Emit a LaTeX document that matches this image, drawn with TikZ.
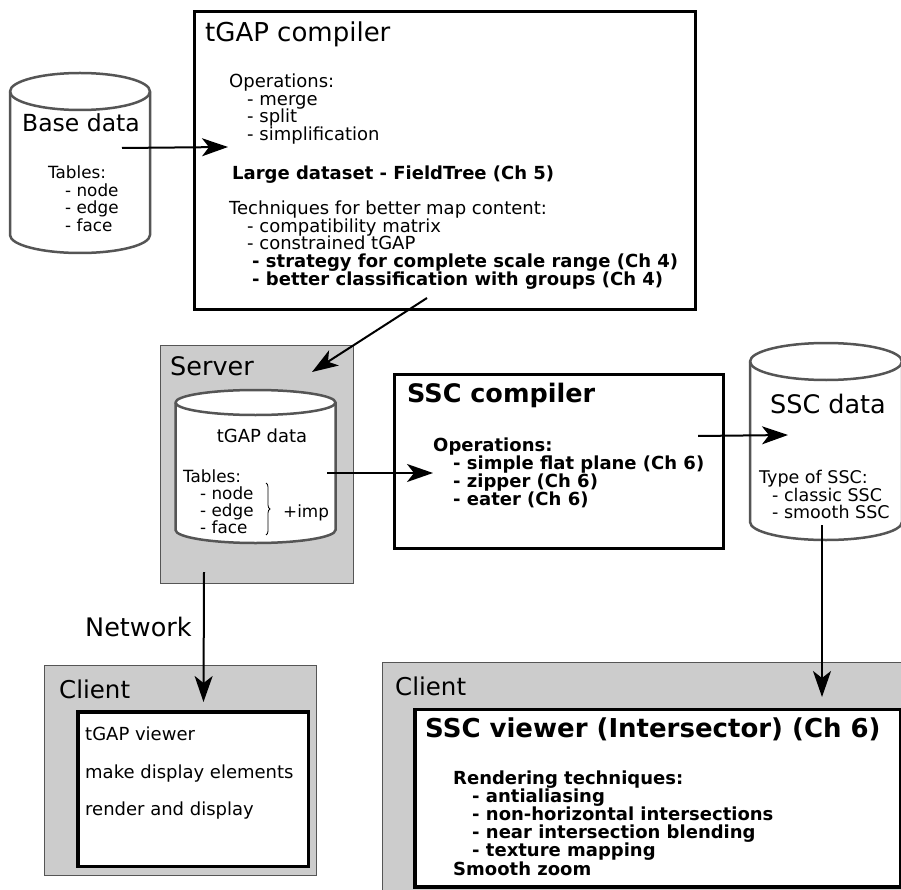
\documentclass[tikz,border=0pt]{standalone}
\usepackage{fontspec}
\setmainfont{DejaVu Sans}
\usetikzlibrary{arrows.meta,decorations.pathreplacing}
\definecolor{boxgray}{HTML}{CCCCCC}
\definecolor{edgegray}{HTML}{555555}
\newcommand\fsbody{\fontsize{18}{21}\selectfont}
\newcommand\fstab{\fontsize{16.8}{20}\selectfont}
\begin{document}
\begin{tikzpicture}[x=1pt,y=-1pt,
  lbl/.style={inner sep=0pt, anchor=base west, font=\fsbody},
  lblb/.style={inner sep=0pt, anchor=base west, font=\fsbody\bfseries},
  lbls/.style={inner sep=0pt, anchor=base west, font=\fstab},
  big/.style={inner sep=0pt, anchor=base west, font=\fontsize{24.5}{28}\selectfont},
  conn/.style={draw=black, line width=2pt, -{Stealth[length=26pt,width=18pt,inset=7pt]}},
  cyl/.style={draw=edgegray, line width=2.5pt, fill=white},
  graybox/.style={draw=edgegray, fill=boxgray, line width=1.2pt, anchor=north west, inner sep=0pt},
  mainbox/.style={draw=black, line width=3pt, fill=white, anchor=north west, inner sep=0pt},
  innerbox/.style={draw=black, line width=3.5pt, fill=white, anchor=north west, inner sep=0pt}]
\useasboundingbox (0,0) rectangle (901,890);

% ---------- boxes ----------
\node[mainbox, minimum width=501pt, minimum height=298pt] (tgap) at (192.5,10) {};
\node[graybox, minimum width=192.5pt, minimum height=238pt] (server) at (160,345) {};
\node[mainbox, minimum width=328.5pt, minimum height=174.5pt] (ssccomp) at (393,372.5) {};
\node[graybox, minimum width=272pt, minimum height=210pt] (clientL) at (44,665) {};
\node[innerbox, minimum width=230.5pt, minimum height=154.5pt] (viewerL) at (76,710) {};
\node[graybox, minimum width=523pt, minimum height=233pt] (clientR) at (382,662) {};
\node[innerbox, minimum width=486pt, minimum height=177.5pt] (viewerR) at (413,707.5) {};

% ---------- cylinders ----------
% Base data
\filldraw[cyl] (10,91.5) -- (10,235) arc[start angle=180,end angle=360,x radius=70pt,y radius=18pt]
  -- (150,91.5) arc[start angle=0,end angle=180,x radius=70pt,y radius=18.5pt] -- cycle;
\draw[cyl, fill=none] (10,91.5) arc[start angle=180,end angle=360,x radius=70pt,y radius=18.5pt];
% tGAP data
\filldraw[cyl] (175.5,402.5) -- (175.5,530) arc[start angle=180,end angle=360,x radius=80pt,y radius=13pt]
  -- (335.5,402.5) arc[start angle=0,end angle=180,x radius=80pt,y radius=12.5pt] -- cycle;
\draw[cyl, fill=none] (175.5,402.5) arc[start angle=180,end angle=360,x radius=80pt,y radius=12.5pt];
% SSC data
\filldraw[cyl] (750,361.5) -- (750,522) arc[start angle=180,end angle=360,x radius=76pt,y radius=18pt]
  -- (902,361.5) arc[start angle=0,end angle=180,x radius=76pt,y radius=18.5pt] -- cycle;
\draw[cyl, fill=none] (750,361.5) arc[start angle=180,end angle=360,x radius=76pt,y radius=18.5pt];

% ---------- Base data text ----------
\node[big, anchor=base, font=\fontsize{23.5}{28}\selectfont] (basettl) at (81,132) {Base data};
\node[lbls] (bt1) at (48,179) {Tables:};
\node[lbls] (bt2) at (65,196.5) {- node};
\node[lbls] (bt3) at (65,214) {- edge};
\node[lbls] (bt4) at (65,231.5) {- face};

% ---------- tGAP compiler text ----------
\node[big, font=\fontsize{26}{30}\selectfont] (tgapttl) at (205,42) {tGAP compiler};
\node[lbl] (tg1) at (229,88) {Operations:};
\node[lbl] (tg2) at (247,105.5) {- merge};
\node[lbl] (tg3) at (247,123) {- split};
\node[lbl] (tg4) at (247,140.5) {- simplification};
\node[lblb] (tg5) at (232,180) {Large dataset - FieldTree (Ch 5)};
\node[lbl] (tg6) at (229,215) {Techniques for better map content:};
\node[lbl] (tg7) at (247,232.5) {- compatibility matrix};
\node[lbl] (tg8) at (247,250) {- constrained tGAP};
\node[lblb] (tg9) at (252,268) {- strategy for complete scale range (Ch 4)};
\node[lblb] (tg10) at (252,286) {- better classification with groups (Ch 4)};

% ---------- Server ----------
\node[big, font=\fontsize{25.5}{30}\selectfont] (serverttl) at (170,375) {Server};
\node[lbl, anchor=base] (tdttl) at (262,442) {tGAP data};
\node[lbls] (td1) at (183,482) {Tables:};
\node[lbls] (td2) at (200,499) {- node};
\node[lbls] (td3) at (200,516) {- edge};
\node[lbls] (td4) at (200,533) {- face};
\draw[line width=0.8pt, decorate, decoration={brace, amplitude=4pt}] (266,483) -- (266,535);
\node[lbls] (imp) at (283,517) {+imp};

% ---------- SSC compiler ----------
\node[big, font=\fontsize{25.5}{30}\selectfont\bfseries] (sscttl) at (407,402) {SSC compiler};
\node[lblb] (sc1) at (433,451) {Operations:};
\node[lblb] (sc2) at (453,469) {- simple flat plane (Ch 6)};
\node[lblb] (sc3) at (453,487) {- zipper (Ch 6)};
\node[lblb] (sc4) at (453,505) {- eater (Ch 6)};

% ---------- SSC data ----------
\node[big, anchor=base, font=\fontsize{25.5}{30}\selectfont] (sdttl) at (828,413) {SSC data};
\node[lbls, font=\fontsize{17.5}{20}\selectfont] (sd1) at (759,483) {Type of SSC:};
\node[lbls, font=\fontsize{17.5}{20}\selectfont] (sd2) at (772,501) {- classic SSC};
\node[lbls, font=\fontsize{17.5}{20}\selectfont] (sd3) at (772,518) {- smooth SSC};

% ---------- Network ----------
\node[big, font=\fontsize{25.5}{30}\selectfont] (network) at (85,636) {Network};

% ---------- Client left ----------
\node[big] (clientLttl) at (59,698) {Client};
\node[lbl] (cl1) at (85,740) {tGAP viewer};
\node[lbl] (cl2) at (85,778) {make display elements};
\node[lbl] (cl3) at (85,815) {render and display};

% ---------- Client right ----------
\node[big] (clientRttl) at (395,695) {Client};
\node[big, font=\fontsize{26}{30}\selectfont\bfseries] (vrttl) at (425,737) {SSC viewer (Intersector) (Ch 6)};
\node[lblb] (vr1) at (453,784) {Rendering techniques:};
\node[lblb] (vr2) at (472,802.2) {- antialiasing};
\node[lblb] (vr3) at (472,820.4) {- non-horizontal intersections};
\node[lblb] (vr4) at (472,838.6) {- near intersection blending};
\node[lblb] (vr5) at (472,856.8) {- texture mapping};
\node[lblb] (vr6) at (453,875) {Smooth zoom};

% ---------- connectors ----------
\coordinate (a1s) at (122,148);
\coordinate (a1e) at (228,147);
\coordinate (a2s) at (427,298);
\coordinate (a2e) at (312,372);
\coordinate (a3s) at (327,473);
\coordinate (a3e) at (433,473);
\coordinate (a4s) at (698,436);
\coordinate (a4e) at (788,435);
\coordinate (a5s) at (822,525);
\coordinate (a5e) at (822,697);
\coordinate (a6s) at (204,572);
\coordinate (a6e) at (203.5,702);
\draw[conn] (a1s) -- (a1e);
\draw[conn] (a2s) -- (a2e);
\draw[conn] (a3s) -- (a3e);
\draw[conn] (a4s) -- (a4e);
\draw[conn] (a5s) -- (a5e);
\draw[conn] (a6s) -- (a6e);
\end{tikzpicture}
\end{document}
